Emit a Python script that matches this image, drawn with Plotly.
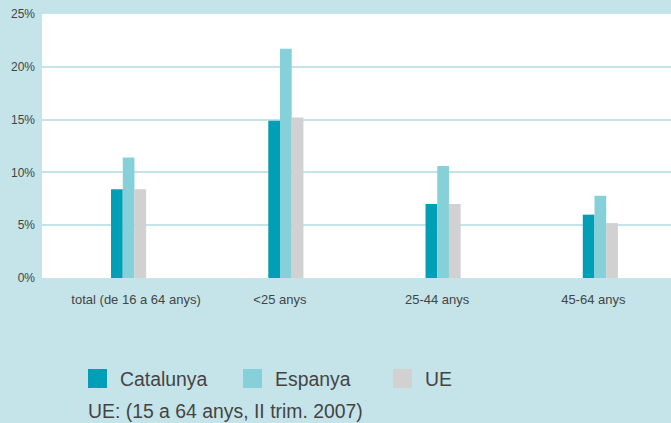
import plotly.graph_objects as go

categories = ["total (de 16 a 64 anys)", "<25 anys", "25-44 anys", "45-64 anys"]
catalunya = [8.4, 14.9, 7.0, 6.0]
espanya = [11.4, 21.7, 10.6, 7.8]
ue = [8.4, 15.2, 7.0, 5.2]
series_names = ["Catalunya", "Espanya", "UE"]
colors = ["#009fb5", "#86d1d9", "#d1d1d1"]
y_ticks = [0, 5, 10, 15, 20, 25]
y_tick_labels = ["0%", "5%", "10%", "15%", "20%", "25%"]
note = "UE: (15 a 64 anys, II trim. 2007)"

BG = "#c4e4e9"
FONT = "Liberation Sans, Arial, Helvetica, sans-serif"

fig = go.Figure()
bar_w = 0.0745
offsets = [-0.061, 0.0135, 0.088]
for name, vals, col, off in zip(series_names, [catalunya, espanya, ue], colors, offsets):
    fig.add_trace(go.Bar(x=categories, y=vals, name=name, marker=dict(color=col, line=dict(width=0)),
                         width=bar_w, offset=off, showlegend=False))

# manual legend (larger squares)
leg_x = [0.0731, 0.3196, 0.558]
sq_w = 0.0302
for name, col, lx in zip(series_names, colors, leg_x):
    fig.add_shape(type="rect", xref="paper", yref="paper", x0=lx, x1=lx + sq_w,
                  y0=-0.4167, y1=-0.3447, fillcolor=col, line=dict(width=0))
    fig.add_annotation(xref="paper", yref="paper", x=lx + sq_w + 0.0175, y=-0.381, text=name,
                       showarrow=False, xanchor="left", yanchor="middle",
                       font=dict(family=FONT, size=19.4, color="#444444"))
fig.add_annotation(xref="paper", yref="paper", x=0.0731 - 0.003, y=-0.505, text=note,
                   showarrow=False, xanchor="left", yanchor="middle",
                   font=dict(family=FONT, size=19.4, color="#444444"))

# label positions (category index + small layout shift)
label_pos = [i + s for i, s in enumerate([0.098, 0.013, 0.013, 0.006])]

fig.update_layout(
    width=671, height=423,
    margin=dict(l=42, r=0, t=14, b=145),
    paper_bgcolor=BG, plot_bgcolor="white",
    barmode="group",
    font=dict(family=FONT, color="#444444"),
    xaxis=dict(type="category", range=[-0.5, 3.5], showgrid=False, showline=False, zeroline=False,
               tickmode="array", tickvals=label_pos, ticktext=categories,
               ticks="", tickfont=dict(size=13, color="#444444"), ticklabelstandoff=12),
    yaxis=dict(range=[0, 25], tickvals=y_ticks, ticktext=y_tick_labels, showgrid=True,
               gridcolor=BG, gridwidth=2, zeroline=False, showline=False, ticks="",
               tickfont=dict(size=12, color="#444444"), ticklabelstandoff=6),
)

fig.write_html("out.html", config={"displayModeBar": False},
               post_script="document.body.style.margin='0';document.body.style.padding='0';")
